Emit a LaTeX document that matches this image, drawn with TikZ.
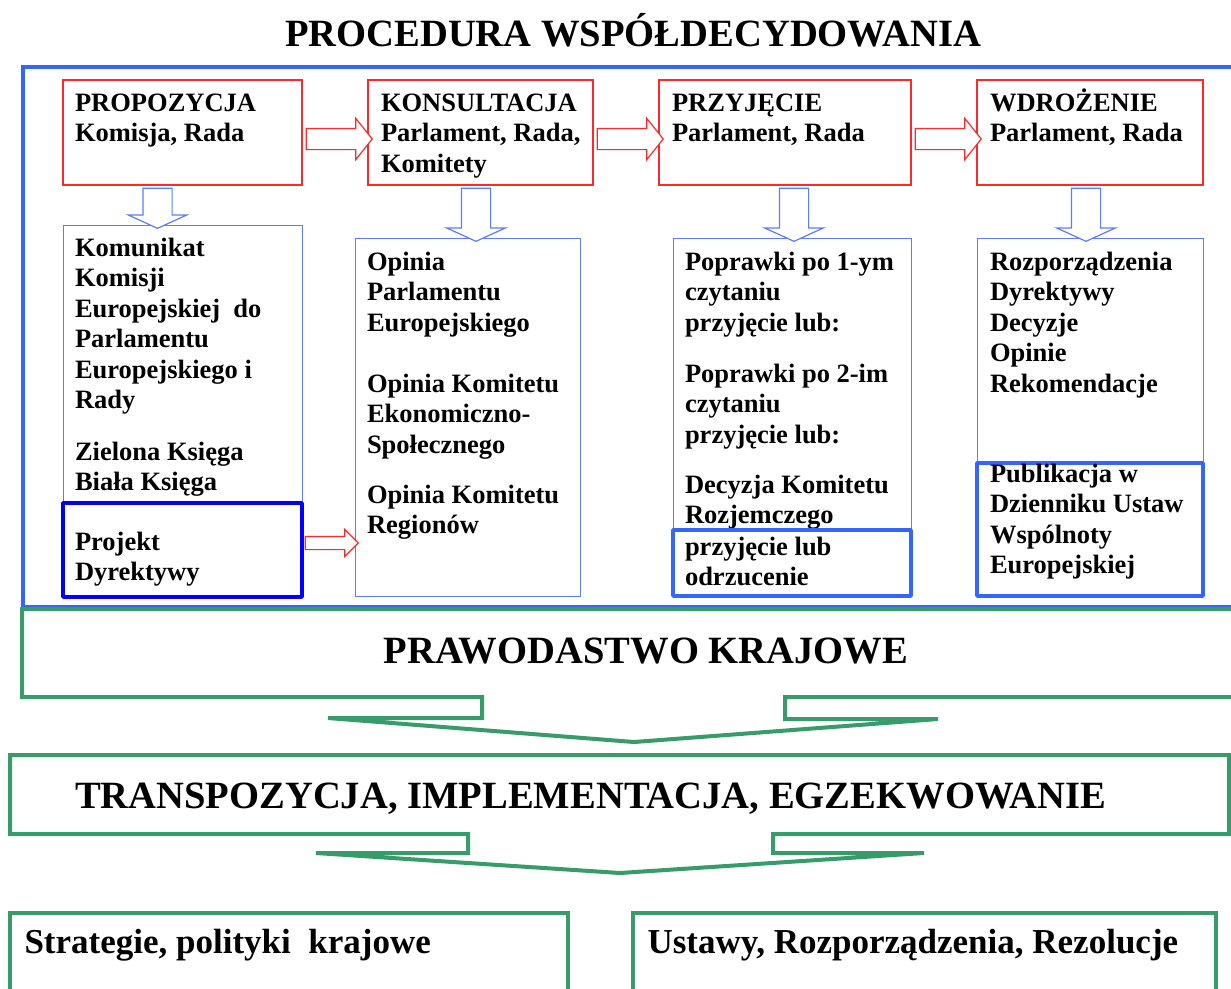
\documentclass[tikz,border=0pt]{standalone}
\usepackage{fontspec}
\setmainfont{Liberation Serif}
\usetikzlibrary{shapes.arrows,calc}
\definecolor{rulered}{RGB}{255,40,40}
\definecolor{lineblue}{RGB}{90,125,255}
\definecolor{frameblue}{RGB}{51,102,255}
\definecolor{deepblue}{RGB}{0,0,255}
\definecolor{lawgreen}{RGB}{56,156,106}
\newcommand\boxfont{\fontsize{26.5}{30.5}\selectfont\bfseries}
\newcommand\bigfont{\fontsize{38.6}{44}\selectfont\bfseries}
\newcommand\lowfont{\fontsize{35}{40}\selectfont\bfseries}
\newcommand\topline{\rule{0pt}{25pt}}
\begin{document}
\begin{tikzpicture}[x=1pt,y=-1pt]
\tikzstyle{every node}+=[inner sep=0pt, outer sep=0pt]
\tikzstyle{stage}=[draw=rulered, line width=1.2pt]
\tikzstyle{doc}=[draw=lineblue, line width=1pt]
\tikzstyle{result}=[draw=frameblue, line width=3.5pt, line join=round]
\tikzstyle{txt}=[anchor=north west, align=left, font=\boxfont]
\tikzstyle{nextarrow}=[single arrow, draw=rulered, fill=white, line width=1.2pt, inner xsep=0pt, inner ysep=10pt, single arrow tip angle=103, single arrow head extend=10pt, minimum height=66pt]
\tikzstyle{downarrow}=[single arrow, shape border rotate=270, draw=lineblue, fill=white, line width=1.2pt, inner xsep=14pt, inner ysep=0pt, single arrow tip angle=131, single arrow head extend=14.5pt]
\tikzstyle{lawframe}=[draw=lawgreen, line width=4pt]
\clip (0,0) rectangle (1231,988);
\fill[white] (0,0) rectangle (1231,988);
\node[font=\bigfont, anchor=base] (title) at (633,46) {PROCEDURA WSPÓŁDECYDOWANIA};
\draw[frameblue, line width=4pt] (23,67) rectangle (1250,607);
% stages
\node[stage, minimum width=239pt, minimum height=105pt] (prop) at (182.5,132.5) {};
\node[stage, minimum width=225pt, minimum height=105pt] (kons) at (480.5,132.5) {};
\node[stage, minimum width=252pt, minimum height=105pt] (przy) at (785,132.5) {};
\node[stage, minimum width=226pt, minimum height=105pt] (wdro) at (1090,132.5) {};
\node[txt] (prop-t) at (75,86) {\topline PROPOZYCJA\\Komisja, Rada};
\node[txt] (kons-t) at (381,86) {\topline KONSULTACJA\\Parlament, Rada,\\Komitety};
\node[txt] (przy-t) at (672,86) {\topline PRZYJĘCIE\\Parlament, Rada};
\node[txt] (wdro-t) at (990,86) {\topline WDROŻENIE\\Parlament, Rada};
% documents
\node[doc, minimum width=239pt, minimum height=278pt] (kom) at (182.5,364) {};
\node[doc, minimum width=225pt, minimum height=358pt] (opin) at (467.5,417) {};
\node[doc, minimum width=238pt, minimum height=292pt] (popr) at (792,384) {};
\node[doc, minimum width=226pt, minimum height=225pt] (rozp) at (1090,350.5) {};
\node[txt] (kom-t) at (75,231) {\topline Komunikat\\Komisji\\Europejskiej\ \ do\\Parlamentu\\Europejskiego i\\Rady\\[21pt]Zielona Księga\\Biała Księga};
\node[txt] (opin-t) at (367,245) {\topline Opinia\\Parlamentu\\Europejskiego\\[30.5pt]Opinia Komitetu\\Ekonomiczno-\\Społecznego\\[19.5pt]Opinia Komitetu\\Regionów};
\node[txt] (popr-t) at (685,245) {\topline Poprawki po 1-ym\\czytaniu\\przyjęcie lub:\\[20.5pt]Poprawki po 2-im\\czytaniu\\przyjęcie lub:\\[19.5pt]Decyzja Komitetu\\Rozjemczego};
\node[txt] (rozp-t) at (990,245) {\topline Rozporządzenia\\Dyrektywy\\Decyzje\\Opinie\\Rekomendacje};
% results
\node[result, draw=deepblue, minimum width=239pt, minimum height=94pt] (proj) at (182.5,550) {};
\node[result, minimum width=238pt, minimum height=66pt] (odrz) at (792,563) {};
\node[result, minimum width=226pt, minimum height=133pt] (publ) at (1090,529.5) {};
\node[txt] (proj-t) at (75,525) {\topline Projekt\\Dyrektywy};
\node[txt] (odrz-t) at (685,530) {\topline przyjęcie lub\\odrzucenie};
\node[txt] (publ-t) at (990,457) {\topline Publikacja w\\Dzienniku Ustaw\\Wspólnoty\\Europejskiej};
% arrows
\node[nextarrow, yshift=-6.5pt] (a1) at ($(prop.east)!0.5!(kons.west)$) {};
\node[nextarrow, yshift=-6.5pt] (a2) at ($(kons.east)!0.5!(przy.west)$) {};
\node[nextarrow, yshift=-6.5pt] (a3) at ($(przy.east)!0.5!(wdro.west)$) {};
\node[nextarrow, inner ysep=6pt, minimum height=53pt, single arrow head extend=7pt, single arrow tip angle=90, yshift=7pt] (a4) at ($(proj.east)!0.5!(proj.east -| opin.west)$) {};
\node[downarrow, minimum height=40pt, xshift=-25pt] (d1) at ($(prop.south)!0.5!(kom.north)$) {};
\node[downarrow, minimum height=53pt, xshift=2pt] (d2) at ($(kons.south)!0.5!(opin.north)$) {};
\node[downarrow, minimum height=53pt, xshift=5.5pt] (d3) at ($(przy.south)!0.5!(popr.north)$) {};
\node[downarrow, minimum height=53pt, xshift=-4pt] (d4) at ($(wdro.south)!0.5!(rozp.north)$) {};
% national law
\draw[lawframe, fill=white] (22,609) -- (1250,609) -- (1250,697) -- (785,697) -- (785,719) -- (938,719) -- (634,742) -- (328,718) -- (482,718) -- (482,697) -- (22,697) -- cycle;
\node[font=\bigfont, anchor=base] (natlaw) at (646,663) {PRAWODASTWO KRAJOWE};
\draw[lawframe] (10,755) -- (1229,755) -- (1229,834) -- (773,834) -- (773,853) -- (924,853) -- (620,873) -- (316,853) -- (468,853) -- (468,834) -- (10,834) -- cycle;
\node[font=\bigfont, anchor=base] (transp) at (590.5,808) {TRANSPOZYCJA, IMPLEMENTACJA, EGZEKWOWANIE};
\draw[lawframe] (10,913) rectangle (568,1000);
\draw[lawframe] (633,913) rectangle (1216,1000);
\node[font=\lowfont, anchor=base west] (strat) at (24.5,953) {Strategie, polityki\ \ krajowe};
\node[font=\lowfont, anchor=base west] (ustawy) at (647.5,953) {Ustawy, Rozporządzenia, Rezolucje};
\end{tikzpicture}
\end{document}
